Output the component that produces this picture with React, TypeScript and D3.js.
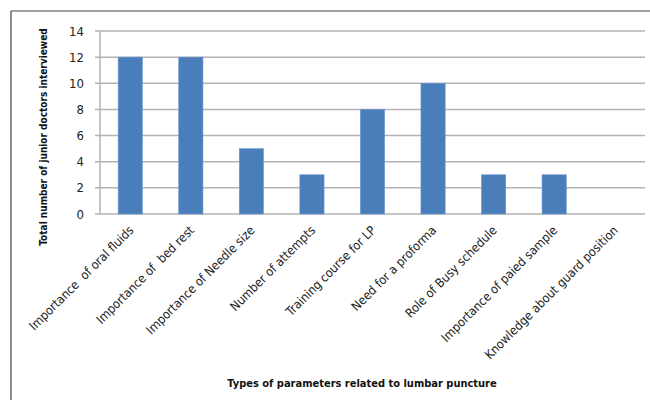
import React from "react";
import * as d3 from "d3";

// Survey responses: parameters related to lumbar puncture
const categories: string[] = [
  "Importance  of oral fluids",
  "Importance of  bed rest",
  "Importance of Needle size",
  "Number of attempts",
  "Training course for LP",
  "Need for a proforma",
  "Role of Busy schedule",
  "Importance of paied sample",
  "Knowledge about guard position",
];
const counts: number[] = [12, 12, 5, 3, 8, 10, 3, 3, 0];
const yTicks: number[] = [0, 2, 4, 6, 8, 10, 12, 14];

const yTitle = "Total number of junior doctors interviewed";
const xTitle = "Types of parameters related to lumbar puncture";

const W = 650;
const H = 400;
const plot = { left: 100, right: 645, top: 31, bottom: 214 };
const FONT = "'Liberation Sans Narrow', 'DejaVu Sans Condensed', 'Liberation Sans', Arial, sans-serif";

export default function App() {
  const x = d3
    .scaleBand<string>()
    .domain(categories)
    .range([plot.left, plot.right])
    .paddingInner(0.6)
    .paddingOuter(0.3);
  const y = d3.scaleLinear().domain([0, 14]).range([plot.bottom, plot.top]);

  return (
    <svg
      width={W}
      height={H}
      style={{ position: "absolute", left: 0, top: 0, background: "#fff" }}
      fontFamily={FONT}
    >
      {/* frame */}
      <line x1={11} y1={11} x2={W} y2={11} stroke="#444" strokeWidth={1.2} />
      <line x1={11} y1={11} x2={11} y2={H} stroke="#444" strokeWidth={1.2} />

      {/* gridlines and y ticks */}
      {yTicks.map((t) => (
        <g key={t}>
          <line
            x1={plot.left - 5}
            x2={plot.right}
            y1={y(t)}
            y2={y(t)}
            stroke="#b3b3b3"
            strokeWidth={1.5}
          />
          <text
            x={84}
            y={y(t)}
            dy="0.35em"
            textAnchor="end"
            fontSize={13}
            fill="#222"
          >
            {t}
          </text>
        </g>
      ))}
      <line
        x1={plot.left}
        x2={plot.left}
        y1={plot.top}
        y2={plot.bottom}
        stroke="#b3b3b3"
        strokeWidth={1.5}
      />

      {/* bars */}
      {categories.map((c, i) => (
        <rect
          key={c}
          x={x(c)}
          y={y(counts[i])}
          width={x.bandwidth()}
          height={y(0) - y(counts[i])}
          fill="#4a7ebb"
          stroke="#6a97cc"
          strokeWidth={0.6}
        />
      ))}

      {/* category labels */}
      {categories.map((c) => {
        const cx = (x(c) as number) + x.bandwidth() / 2 + 1;
        const cy = plot.bottom + 14;
        return (
          <text
            key={c}
            transform={`translate(${cx},${cy}) rotate(-45)`}
            textAnchor="end"
            fontSize={12.5}
            fill="#222"
            dy="0.35em"
            style={{ whiteSpace: "pre" }}
          >
            {c}
          </text>
        );
      })}

      {/* axis titles */}
      <text
        transform={`translate(47,${137}) rotate(-90)`}
        textAnchor="middle"
        fontSize={10}
        fontWeight="bold"
        fill="#111"
      >
        {yTitle}
      </text>
      <text
        x={362}
        y={387}
        textAnchor="middle"
        fontSize={11}
        fontWeight="bold"
        fill="#111"
      >
        {xTitle}
      </text>
    </svg>
  );
}
